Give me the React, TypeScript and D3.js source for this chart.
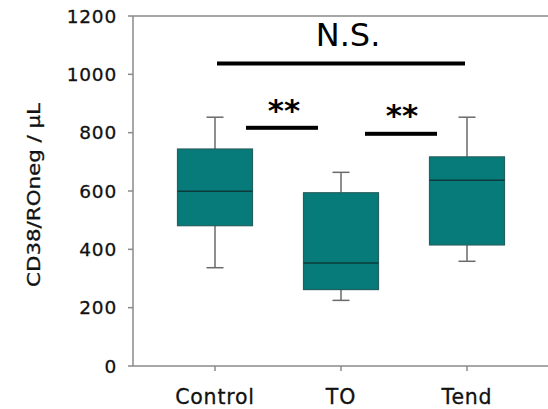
import React from "react";
import * as d3 from "d3";

const categories = ["Control", "TO", "Tend"];
const whiskerLow = [337, 225, 359];
const q1 = [481, 262, 415];
const medians = [599, 353, 637];
const q3 = [744, 594, 717];
const whiskerHigh = [853, 664, 853];
const yTicks = [0, 200, 400, 600, 800, 1000, 1200];

const W = 548;
const H = 409;
const left = 133;
const right = 593;
const top = 16;
const bottom = 366;

export default function App() {
  const y = d3.scaleLinear().domain([0, 1200]).range([bottom, top]);
  const x = d3.scalePoint<string>().domain(categories).range([215, 467]);
  const boxW = 75;
  const capW = 17;
  const font = "'DejaVu Sans', Verdana, sans-serif";
  const data = categories.map((c, i) => ({
    c,
    lo: whiskerLow[i],
    q1: q1[i],
    med: medians[i],
    q3: q3[i],
    hi: whiskerHigh[i],
  }));
  return (
    <svg width={W} height={H} style={{ position: "absolute", left: 0, top: 0 }}>
      <rect width={W} height={H} fill="#fff" />
      <line x1={left} x2={right} y1={top} y2={top} stroke="#8a8a8a" strokeWidth={1.5} />
      <line x1={left} x2={right} y1={bottom} y2={bottom} stroke="#8a8a8a" strokeWidth={1.5} />
      <line x1={left} x2={left} y1={top} y2={bottom} stroke="#8a8a8a" strokeWidth={1.5} />
      {yTicks.map((t) => (
        <g key={t}>
          <line x1={left - 5} x2={left} y1={y(t)} y2={y(t)} stroke="#8a8a8a" strokeWidth={1.5} />
          <text
            x={117}
            y={y(t)}
            dy="0.36em"
            textAnchor="end"
            fontFamily={font}
            fontSize={18.5}
            letterSpacing={0.8}
            fill="#111"
            stroke="#111"
            strokeWidth={0.3}
          >
            {t}
          </text>
        </g>
      ))}
      {categories.map((c) => (
        <g key={c}>
          <line x1={x(c)} x2={x(c)} y1={bottom} y2={bottom + 5} stroke="#8a8a8a" strokeWidth={1.5} />
          <text
            x={x(c)}
            y={404}
            textAnchor="middle"
            fontFamily={font}
            fontSize={20.5}
            letterSpacing={0.8}
            fill="#111"
            stroke="#111"
            strokeWidth={0.3}
          >
            {c}
          </text>
        </g>
      ))}
      <text
        transform={`translate(40,195) rotate(-90)`}
        textAnchor="middle"
        fontFamily={font}
        fontSize={18}
        textLength={184}
        lengthAdjust="spacingAndGlyphs"
        fill="#111"
        stroke="#111"
        strokeWidth={0.3}
      >
        CD38/ROneg / µL
      </text>
      {data.map((d) => {
        const cx = x(d.c)!;
        return (
          <g key={d.c}>
            <line x1={cx} x2={cx} y1={y(d.hi)} y2={y(d.q3)} stroke="#6a6a6a" strokeWidth={1.5} />
            <line x1={cx} x2={cx} y1={y(d.q1)} y2={y(d.lo)} stroke="#6a6a6a" strokeWidth={1.5} />
            <line x1={cx - capW / 2} x2={cx + capW / 2} y1={y(d.hi)} y2={y(d.hi)} stroke="#6a6a6a" strokeWidth={1.5} />
            <line x1={cx - capW / 2} x2={cx + capW / 2} y1={y(d.lo)} y2={y(d.lo)} stroke="#6a6a6a" strokeWidth={1.5} />
            <rect
              x={cx - boxW / 2}
              y={y(d.q3)}
              width={boxW}
              height={y(d.q1) - y(d.q3)}
              fill="#077b7a"
              stroke="#24605f"
              strokeWidth={1.2}
            />
            <line x1={cx - boxW / 2} x2={cx + boxW / 2} y1={y(d.med)} y2={y(d.med)} stroke="#0d3b3b" strokeWidth={1.5} />
          </g>
        );
      })}
      <rect x={217} y={61.5} width={248} height={4} fill="#000" />
      <text x={348} y={46} textAnchor="middle" fontFamily={font} fontSize={32} fill="#000">
        N.S.
      </text>
      <rect x={246} y={125.8} width={72} height={4} fill="#000" />
      <text x={284} y={121} textAnchor="middle" fontFamily={font} fontSize={31} fontWeight="bold" fill="#000">
        **
      </text>
      <rect x={365} y={131.8} width={72} height={4} fill="#000" />
      <text x={402} y={126} textAnchor="middle" fontFamily={font} fontSize={31} fontWeight="bold" fill="#000">
        **
      </text>
    </svg>
  );
}
